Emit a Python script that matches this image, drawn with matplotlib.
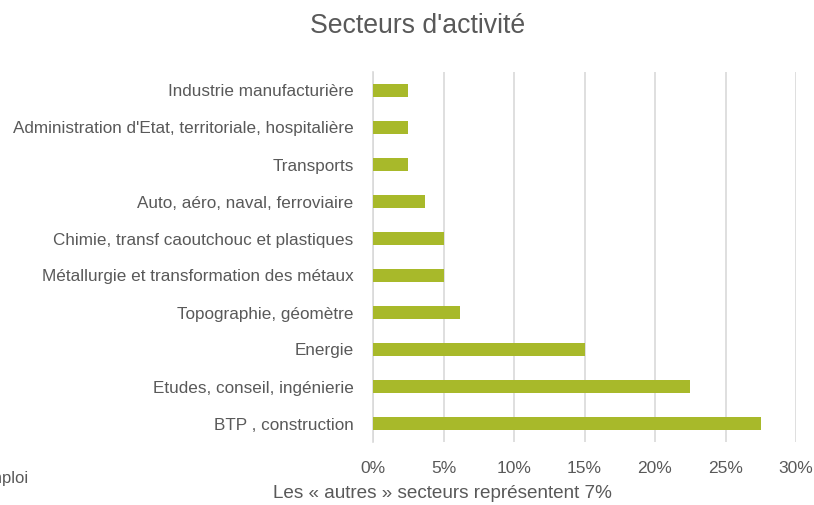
import matplotlib.pyplot as plt
from matplotlib.ticker import FuncFormatter

secteurs = ["Industrie manufacturière",
            "Administration d'Etat, territoriale, hospitalière",
            "Transports",
            "Auto, aéro, naval, ferroviaire",
            "Chimie, transf caoutchouc et plastiques",
            "Métallurgie et transformation des métaux",
            "Topographie, géomètre",
            "Energie",
            "Etudes, conseil, ingénierie",
            "BTP , construction"]
valeurs = [2.5, 2.5, 2.5, 3.7, 5.0, 5.0, 6.2, 15.0, 22.5, 27.5]
ticks = [0, 5, 10, 15, 20, 25, 30]

plt.rcParams['font.family'] = ['Liberation Sans', 'DejaVu Sans']
gris = '#595959'

fig = plt.figure(figsize=(8.14, 5.05), dpi=100)
ax = fig.add_axes([373/814, 1-442/505, (796-373)/814, (442-72)/505])

y = list(range(len(secteurs)))
ax.barh(y, valeurs, height=0.36, color='#a8b92a', zorder=3)
ax.set_ylim(len(secteurs) - 0.5, -0.5)
ax.set_yticks(y)
ax.set_yticklabels(secteurs, fontsize=12.3, color=gris)
ax.set_xlim(0, 30)
ax.set_xticks(ticks)
ax.xaxis.set_major_formatter(FuncFormatter(lambda v, p: '%d%%' % v))
ax.tick_params(axis='x', labelsize=12.5, colors=gris, length=0, pad=14)
ax.tick_params(axis='y', length=0, pad=14)
ax.grid(axis='x', color='#d9d9d9', linewidth=1.2, zorder=0)
for s in ['top', 'right', 'bottom']:
    ax.spines[s].set_visible(False)
ax.spines['left'].set_color('#d9d9d9')
ax.spines['left'].set_linewidth(1.2)

fig.text(418/814, 1-26/505, "Secteurs d'activité", fontsize=19.2, color=gris, ha='center', va='center')
fig.text(442/814, 1-494/505, "Les « autres » secteurs représentent 7%", fontsize=13.6, color=gris, ha='center', va='center')
fig.text(29/814, 1-479/505, "Emploi", fontsize=12, color=gris, ha='right', va='center')

fig.savefig('out.png', dpi=100)
